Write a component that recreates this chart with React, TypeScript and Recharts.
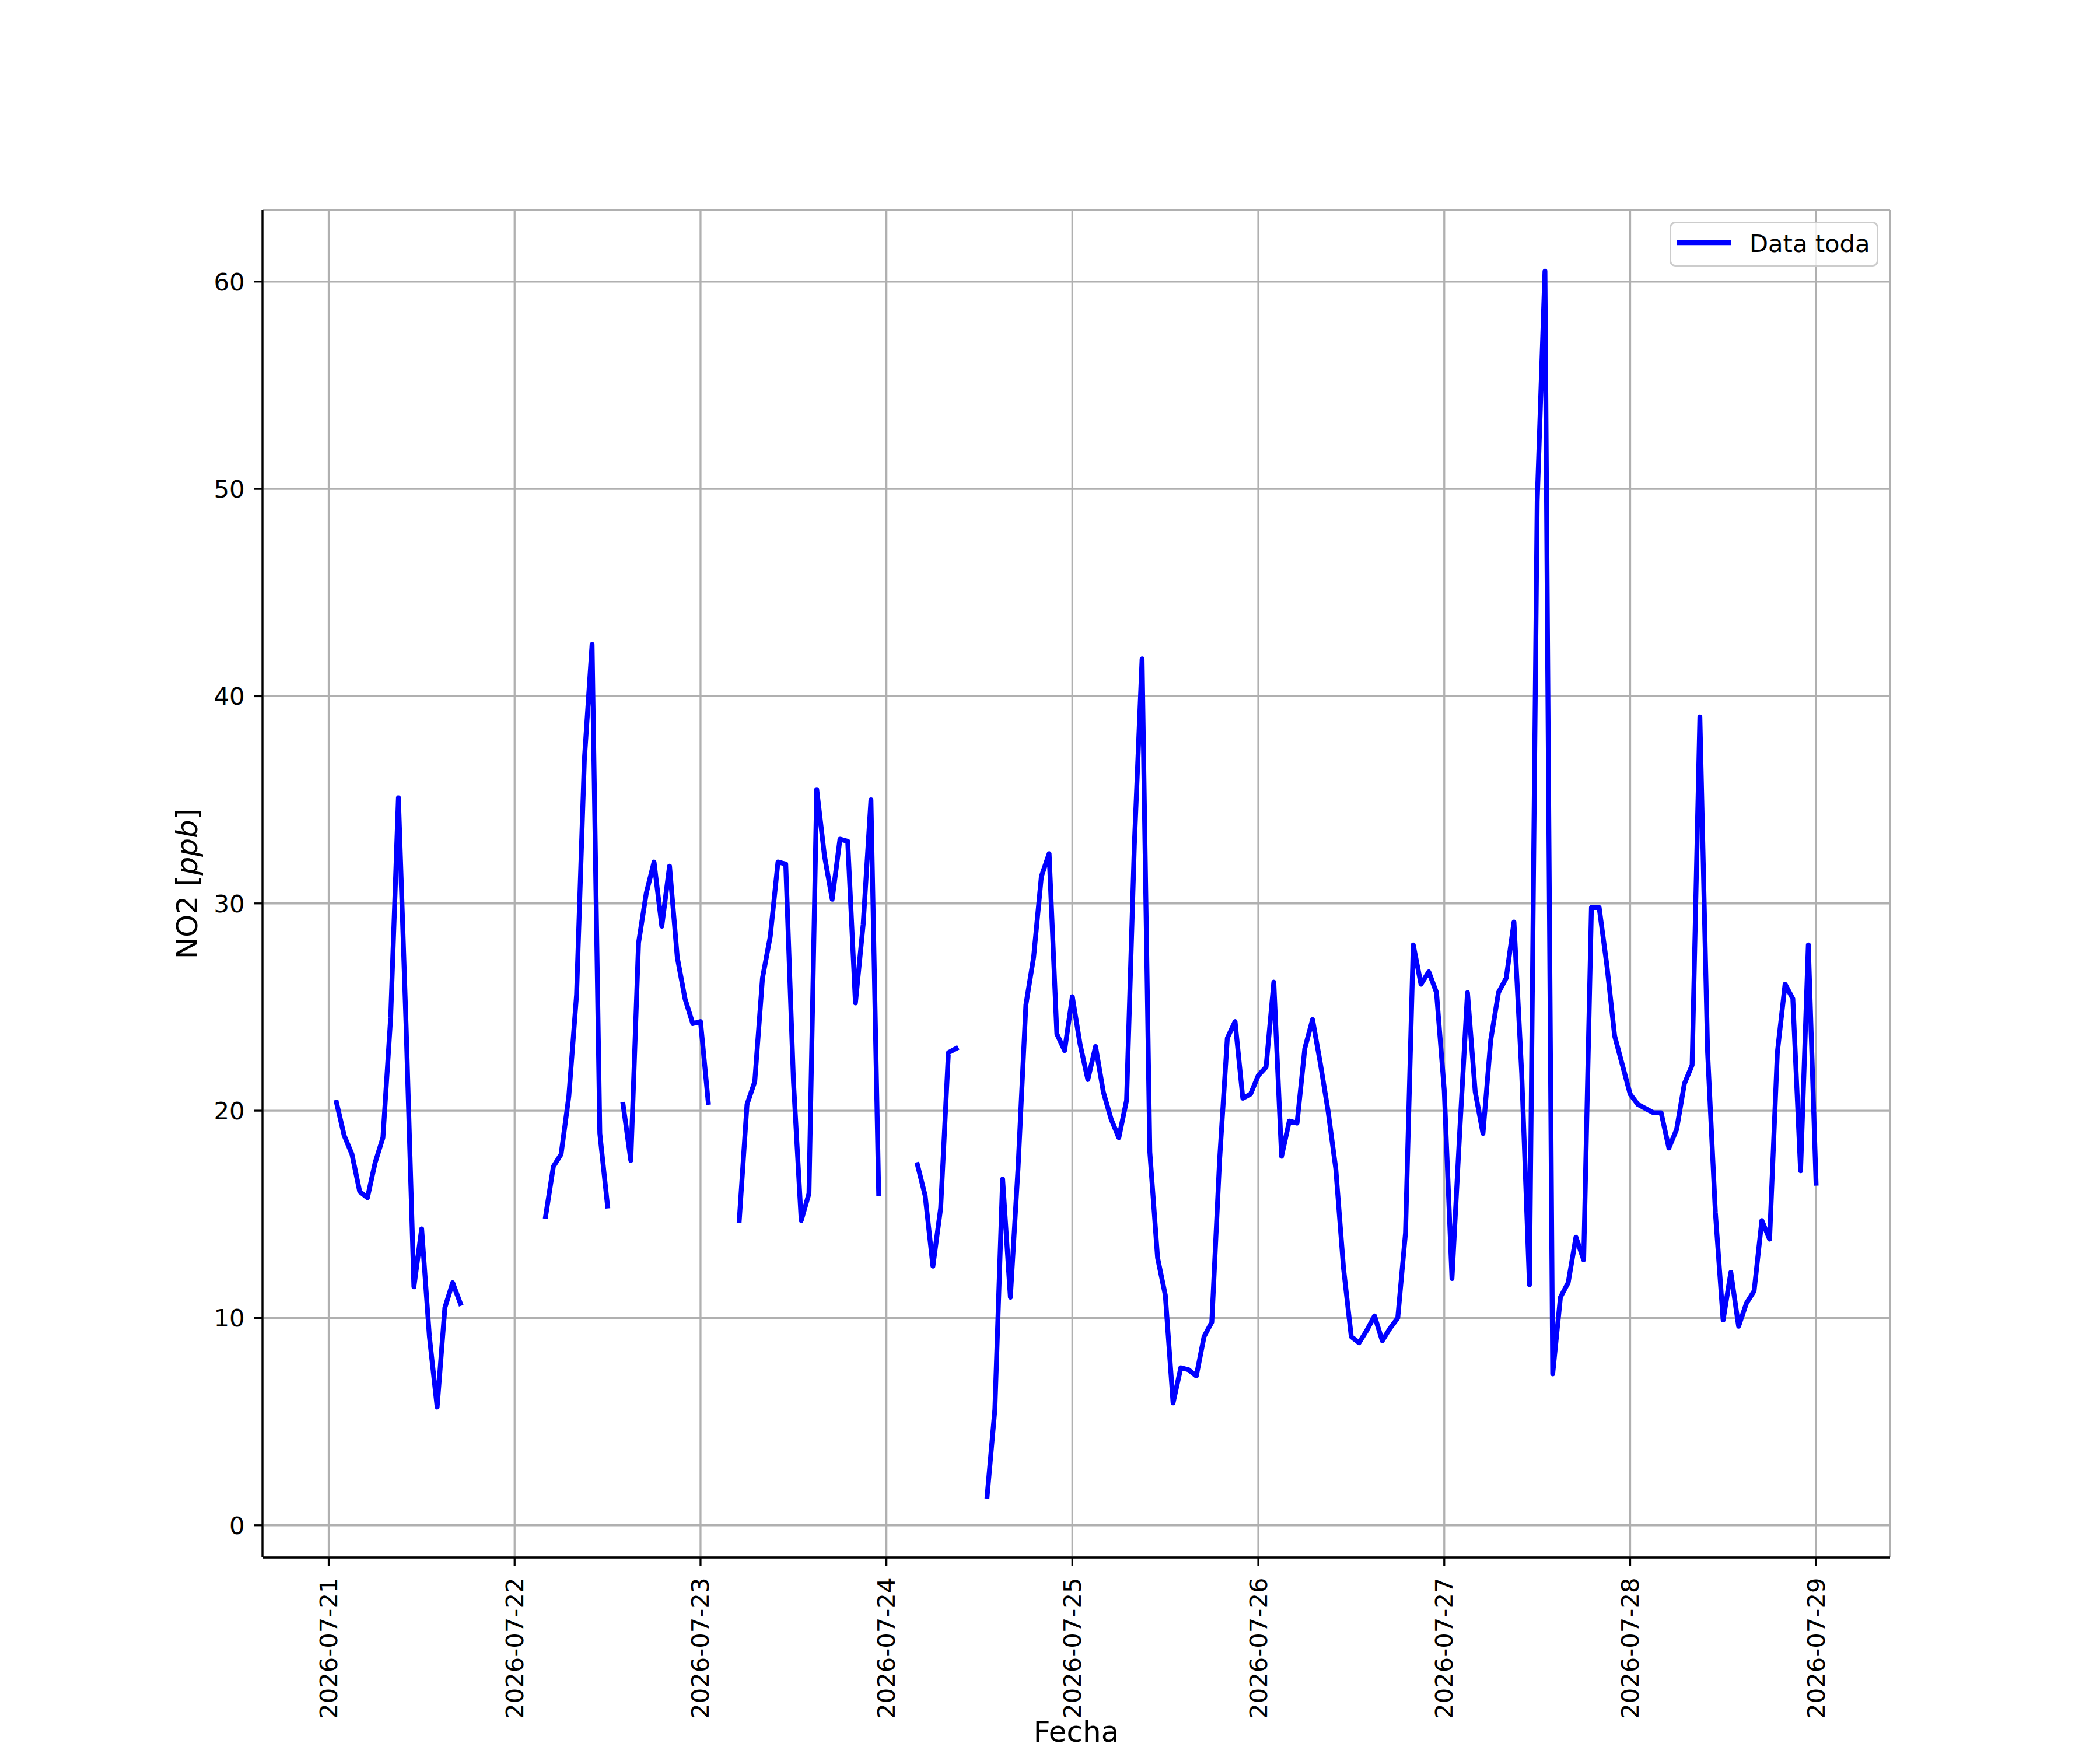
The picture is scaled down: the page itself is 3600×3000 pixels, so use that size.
import { CartesianGrid, Label, Legend, Line, LineChart, XAxis, YAxis } from "recharts";

// hourly NO2 readings, index = hour of the day, null = no data
const NO2_JUL21 = [null, 20.4, 18.8, 17.9, 16.1, 15.8, 17.5, 18.7, 24.5, 35.1, 24.0, 11.5, 14.3, 9.1, 5.7, 10.5, 11.7, 10.7, null, null, null, null, null, null];
const NO2_JUL22 = [null, null, null, null, 14.9, 17.3, 17.9, 20.7, 25.6, 36.9, 42.5, 18.9, 15.4, null, 20.3, 17.6, 28.1, 30.5, 32.0, 28.9, 31.8, 27.4, 25.4, 24.2];
const NO2_JUL23 = [24.3, 20.4, null, null, null, 14.7, 20.3, 21.4, 26.4, 28.4, 32.0, 31.9, 21.4, 14.7, 16.0, 35.5, 32.3, 30.2, 33.1, 33.0, 25.2, 29.0, 35.0, 16.0];
const NO2_JUL24 = [null, null, null, null, 17.4, 15.9, 12.5, 15.3, 22.8, 23.0, null, null, null, 1.4, 5.6, 16.7, 11.0, 17.3, 25.1, 27.4, 31.3, 32.4, 23.7, 22.9];
const NO2_JUL25 = [25.5, 23.2, 21.5, 23.1, 20.9, 19.6, 18.7, 20.5, 32.8, 41.8, 18.0, 12.9, 11.1, 5.9, 7.6, 7.5, 7.2, 9.1, 9.8, 17.6, 23.5, 24.3, 20.6, 20.8];
const NO2_JUL26 = [21.7, 22.1, 26.2, 17.8, 19.5, 19.4, 23.0, 24.4, 22.3, 20.0, 17.2, 12.4, 9.1, 8.8, 9.4, 10.1, 8.9, 9.5, 10.0, 14.1, 28.0, 26.1, 26.7, 25.7];
const NO2_JUL27 = [21.0, 11.9, 19.0, 25.7, 20.9, 18.9, 23.4, 25.7, 26.4, 29.1, 21.8, 11.6, 49.4, 60.5, 7.3, 11.0, 11.7, 13.9, 12.8, 29.8, 29.8, 27.0, 23.6, 22.2];
const NO2_JUL28 = [20.8, 20.3, 20.1, 19.9, 19.9, 18.2, 19.1, 21.3, 22.2, 39.0, 22.8, 15.1, 9.9, 12.2, 9.6, 10.7, 11.3, 14.7, 13.8, 22.8, 26.1, 25.4, 17.1, 28.0];
const NO2_JUL29 = [16.5];

const DAY_LABELS = [
    "2026-07-21",
    "2026-07-22",
    "2026-07-23",
    "2026-07-24",
    "2026-07-25",
    "2026-07-26",
    "2026-07-27",
    "2026-07-28",
    "2026-07-29",
];
const DAYS = [NO2_JUL21, NO2_JUL22, NO2_JUL23, NO2_JUL24, NO2_JUL25, NO2_JUL26, NO2_JUL27, NO2_JUL28, NO2_JUL29];
const X_TICKS = DAY_LABELS.map((_, i) => i * 24);
const Y_TICKS = [0, 10, 20, 30, 40, 50, 60];

const FONT = "DejaVu Sans";
const TICK_SIZE = 41.67;
const LABEL_SIZE = 50;
const LINE_WIDTH = 8.33;

const rows = DAYS.flatMap((values, d) =>
    values.map((v, h) => ({ hour: d * 24 + h, no2: v }))
);

// matplotlib style 5% margins around the data
const valid = rows.filter((r) => r.no2 !== null);
const hMin = Math.min(...valid.map((r) => r.hour));
const hMax = Math.max(...valid.map((r) => r.hour));
const vMin = Math.min(...valid.map((r) => r.no2 as number));
const vMax = Math.max(...valid.map((r) => r.no2 as number));
const xDomain = [hMin - (hMax - hMin) * 0.05, hMax + (hMax - hMin) * 0.05];
const yDomain = [vMin - (vMax - vMin) * 0.05, vMax + (vMax - vMin) * 0.05];

function DateTick({ x, y, payload }: any) {
    return (
        <text
            x={x}
            y={y}
            transform={`rotate(-90 ${x} ${y})`}
            textAnchor="end"
            dominantBaseline="central"
            fontSize={TICK_SIZE}
            fontFamily={FONT}
            fill="#000"
        >
            {DAY_LABELS[Math.round(payload.value / 24)]}
        </text>
    );
}

function XLabel({ viewBox }: any) {
    return (
        <text
            x={viewBox.x + viewBox.width / 2}
            y={viewBox.y + 316}
            textAnchor="middle"
            fontSize={LABEL_SIZE}
            fontFamily={FONT}
            fill="#000"
        >
            Fecha
        </text>
    );
}

function YLabel({ viewBox }: any) {
    const x = 338;
    const y = viewBox.y + viewBox.height / 2;
    return (
        <text
            x={x}
            y={y}
            transform={`rotate(-90 ${x} ${y})`}
            textAnchor="middle"
            fontSize={LABEL_SIZE}
            fontFamily={FONT}
            fill="#000"
        >
            NO2 [<tspan fontStyle="italic">ppb</tspan>]
        </text>
    );
}

function LegendBox() {
    return (
        <svg width={358} height={77} style={{ display: "block" }}>
            <rect
                x={1.5}
                y={1.5}
                width={355}
                height={74}
                rx={8}
                fill="rgba(255,255,255,0.8)"
                stroke="#cccccc"
                strokeWidth={3}
            />
            <line x1={13} y1={36} x2={105} y2={36} stroke="#0000ff" strokeWidth={LINE_WIDTH} />
            <text x={137} y={52} fontSize={TICK_SIZE} fontFamily={FONT} fill="#000">
                Data toda
            </text>
        </svg>
    );
}

export default function App() {
    return (
        <div style={{ width: 3600, height: 3000, background: "#fff" }}>
            <style>{"body{margin:0}"}</style>
            <LineChart
                width={3600}
                height={3000}
                data={rows}
                margin={{ top: 360, right: 360, bottom: 0, left: 0 }}
            >
                <CartesianGrid stroke="#b0b0b0" strokeWidth={3.3} />
                <XAxis
                    dataKey="hour"
                    type="number"
                    domain={xDomain}
                    ticks={X_TICKS}
                    allowDataOverflow
                    height={330}
                    tickSize={14.6}
                    tickMargin={20}
                    tick={<DateTick />}
                    tickLine={{ stroke: "#000", strokeWidth: 3.3 }}
                    axisLine={{ stroke: "#000", strokeWidth: 3.3 }}
                >
                    <Label content={<XLabel />} />
                </XAxis>
                <XAxis
                    xAxisId="top"
                    orientation="top"
                    type="number"
                    domain={xDomain}
                    height={0}
                    tick={false}
                    tickLine={false}
                    axisLine={{ stroke: "#000", strokeWidth: 3.3 }}
                />
                <YAxis
                    type="number"
                    domain={yDomain}
                    ticks={Y_TICKS}
                    allowDataOverflow
                    width={450}
                    tickSize={14.6}
                    tickMargin={16}
                    tick={{ fontSize: TICK_SIZE, fontFamily: FONT, fill: "#000" }}
                    tickLine={{ stroke: "#000", strokeWidth: 3.3 }}
                    axisLine={{ stroke: "#000", strokeWidth: 3.3 }}
                >
                    <Label content={<YLabel />} />
                </YAxis>
                <YAxis
                    yAxisId="right"
                    orientation="right"
                    type="number"
                    domain={yDomain}
                    width={0}
                    tick={false}
                    tickLine={false}
                    axisLine={{ stroke: "#000", strokeWidth: 3.3 }}
                />
                <Legend
                    layout="horizontal"
                    verticalAlign="middle"
                    align="center"
                    content={<LegendBox />}
                    wrapperStyle={{ top: 380, left: 2862, width: 358, height: 77 }}
                />
                <Line
                    type="linear"
                    dataKey="no2"
                    name="Data toda"
                    stroke="#0000ff"
                    strokeWidth={LINE_WIDTH}
                    strokeLinecap="square"
                    strokeLinejoin="round"
                    dot={false}
                    activeDot={false}
                    connectNulls={false}
                    isAnimationActive={false}
                />
            </LineChart>
        </div>
    );
}
